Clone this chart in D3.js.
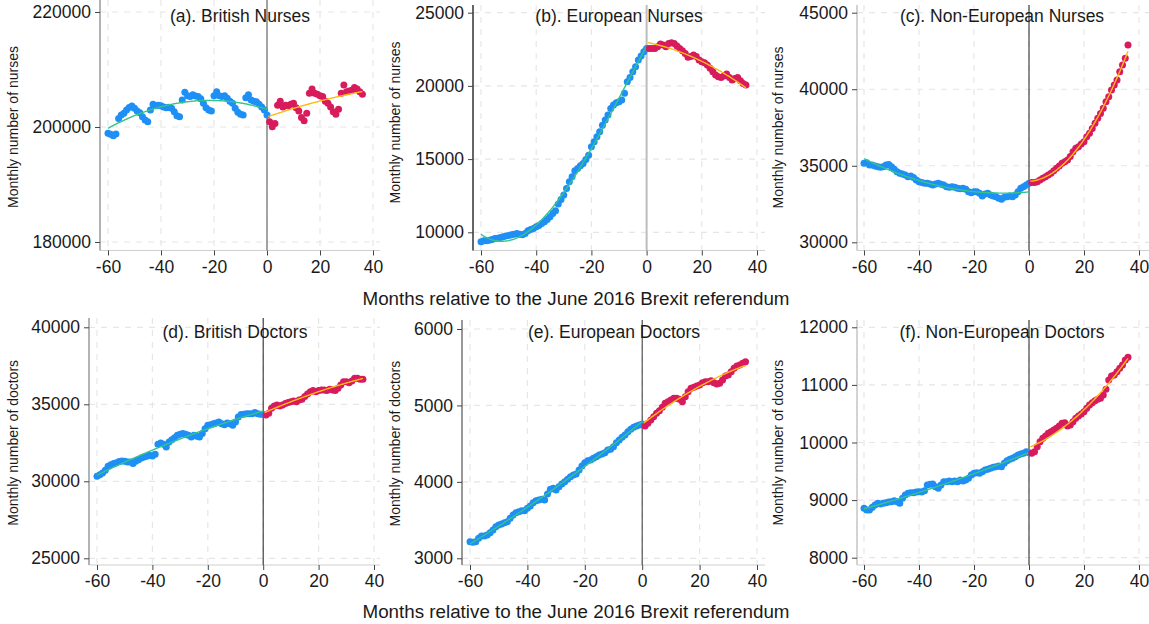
<!DOCTYPE html>
<html><head><meta charset="utf-8">
<script src="https://cdn.jsdelivr.net/npm/d3@7"></script>
<style>
body{margin:0;background:#fff}
svg{display:block;font-family:"Liberation Sans",Arial,sans-serif}
</style>
</head><body>
<svg id="chart" width="1149" height="624"></svg>
<script>
// ---------------- DATA ----------------
const preMonths = [-60,-59,-58,-57,-56,-55,-54,-53,-52,-51,-50,-49,-48,-47,-46,-45,-44,-43,-42,-41,
  -40,-39,-38,-37,-36,-35,-34,-33,-32,-31,-30,-29,-28,-27,-26,-25,-24,-23,-22,-21,
  -20,-19,-18,-17,-16,-15,-14,-13,-12,-11,-10,-9,-8,-7,-6,-5,-4,-3,-2,-1,0];
const postMonths = [1,2,3,4,5,6,7,8,9,10,11,12,13,14,15,16,17,18,19,20,
  21,22,23,24,25,26,27,28,29,30,31,32,33,34,35,36];

const panelTitles = ["(a). British Nurses","(b). European Nurses","(c). Non-European Nurses",
  "(d). British Doctors","(e). European Doctors","(f). Non-European Doctors"];
const yAxisTitles = ["Monthly number of nurses","Monthly number of nurses","Monthly number of nurses",
  "Monthly number of doctors","Monthly number of doctors","Monthly number of doctors"];
const xAxisTitle = "Months relative to the June 2016 Brexit referendum";
const xTicks = [-60,-40,-20,0,20,40];
const yTicksA = [180000,200000,220000];
const yTicksB = [10000,15000,20000,25000];
const yTicksC = [30000,35000,40000,45000];
const yTicksD = [25000,30000,35000,40000];
const yTicksE = [3000,4000,5000,6000];
const yTicksF = [8000,9000,10000,11000,12000];

const britishNursesPre = [198900,198750,198500,198800,201500,202100,202400,202950,203400,203650,
  203250,202800,202500,201800,201200,200900,202950,203950,203700,203800,
  203700,203500,203350,203450,203250,202650,201950,201800,204700,206050,
  205450,205300,205600,205400,205300,204900,204150,203350,202950,202800,
  205450,206150,205450,205300,205450,205000,204500,204150,203250,202550,
  202200,202100,205100,205600,204700,204500,204400,203950,203500,202950,202100];
const britishNursesPost = [200900,200050,200600,203800,204500,203500,203800,203700,203950,204150,
  203350,202800,201650,201100,202400,205850,206600,205850,205700,205450,
  205300,204500,204150,203500,202650,202200,203100,205850,207300,206150,
  206250,206400,206850,206600,206150,205700];

const euNursesPre = [9350,9420,9420,9460,9510,9580,9600,9650,9690,9740,
  9780,9830,9870,9920,9870,9830,9920,10100,10190,10260,
  10380,10470,10600,10720,10880,11060,11290,11470,11930,12240,
  12540,13000,13450,13790,14200,14360,14540,14700,14980,15270,
  15840,16180,16530,16870,17320,17670,18010,18460,18690,18850,
  18920,19030,19490,20280,20580,20970,21310,21770,22040,22330,22560];
const euNursesPost = [22560,22560,22560,22680,22860,22790,22680,22900,22950,22900,
  22720,22560,22400,22220,21950,22000,22110,22000,21770,21650,
  21580,21420,21200,20970,20740,20630,20580,20670,20810,20580,
  20400,20510,20580,20350,20170,20060];

const nonEuNursesPre = [35160,35200,35050,35050,34990,34940,34900,34940,35050,35090,
  34940,34770,34610,34510,34460,34400,34290,34330,34240,34070,
  33960,33900,33850,33850,33810,33740,33810,33850,33790,33740,
  33630,33590,33630,33590,33530,33500,33530,33460,33310,33240,
  33310,33310,33200,33020,33150,33200,33090,33020,32980,32870,
  32810,32940,32980,33020,32980,33090,33310,33530,33630,33740,33850];
const nonEuNursesPost = [33900,33900,33960,34070,34180,34290,34400,34510,34680,34830,
  34990,35160,35270,35380,35600,35920,36140,36250,36420,36570,
  36900,37120,37440,37770,38100,38420,38750,39190,39510,39950,
  40280,40600,41150,41580,42020,42890];

const britishDoctorsPre = [30320,30430,30540,30710,30970,31080,31150,31210,31280,31320,
  31300,31250,31250,31150,31300,31400,31510,31580,31620,31690,
  31640,31750,32400,32490,32400,32230,32550,32700,32830,32990,
  33050,33100,33050,32990,32880,32990,32920,32880,33100,33420,
  33640,33680,33740,33790,33850,33740,33680,33790,33740,33640,
  33850,34180,34330,34350,34390,34390,34390,34460,34390,34350,34330];
const britishDoctorsPost = [34310,34420,34740,34890,34960,34890,34960,35060,35110,35170,
  35220,35170,35280,35320,35500,35670,35820,35890,35820,35890,
  35930,35930,35890,35970,35930,35890,36040,36250,36470,36470,
  36400,36510,36690,36690,36620,36620];

const euDoctorsPre = [3218,3209,3218,3261,3292,3292,3305,3335,3370,3414,
  3436,3449,3466,3479,3523,3566,3597,3610,3623,3623,
  3654,3684,3728,3754,3763,3772,3763,3841,3902,3915,
  3893,3937,3972,4003,4033,4068,4090,4103,4155,4208,
  4251,4277,4286,4308,4330,4352,4365,4382,4417,4426,
  4461,4513,4548,4583,4613,4657,4687,4713,4731,4744,4757];
const euDoctorsPost = [4731,4766,4809,4853,4897,4932,4975,5027,5049,5071,
  5093,5093,5080,5049,5115,5180,5224,5237,5254,5267,
  5298,5311,5311,5324,5298,5280,5289,5333,5385,5398,
  5442,5485,5516,5529,5551,5573];

const nonEuDoctorsPre = [8857,8828,8828,8874,8915,8944,8932,8944,8955,8967,
  8972,8990,8972,8944,9030,9088,9117,9129,9129,9140,
  9146,9140,9164,9262,9274,9279,9233,9204,9262,9320,
  9320,9331,9320,9331,9320,9349,9331,9349,9378,9436,
  9465,9476,9465,9494,9522,9534,9551,9569,9580,9592,
  9580,9638,9685,9708,9725,9754,9783,9800,9812,9841,9823];
const nonEuDoctorsPost = [9812,9841,9928,10014,10072,10113,10159,10188,10217,10246,
  10287,10333,10344,10287,10304,10362,10420,10460,10495,10535,
  10593,10651,10692,10726,10750,10767,10825,10923,11085,11155,
  11172,11230,11288,11346,11433,11479];

const preSeries = [britishNursesPre,euNursesPre,nonEuNursesPre,britishDoctorsPre,euDoctorsPre,nonEuDoctorsPre];
const postSeries = [britishNursesPost,euNursesPost,nonEuNursesPost,britishDoctorsPost,euDoctorsPost,nonEuDoctorsPost];
const yTickSets = [yTicksA,yTicksB,yTicksC,yTicksD,yTicksE,yTicksF];
const preFitDegree = [2,3,2,2,2,2];
const postFitDegree = [2,2,2,2,2,2];

// ---------------- LAYOUT ----------------
const layout = [
  {ax:100, xr:[108,373], yr:[242,12],   top:0,   bot:250.5, right:380,  axisCol:"#9a9a9a", zeroCol:"#9a9a9a", zeroW:1.8, titleX:240,  titleY:16,  ytX:13},
  {ax:473, xr:[481,757], yr:[232.3,12.7], top:5, bot:250.5, right:765,  axisCol:"#333",    zeroCol:"#bdbdbd", zeroW:2,   titleX:619,  titleY:16,  ytX:395},
  {ax:857, xr:[864,1139],yr:[242.3,12.7], top:5, bot:250.5, right:1149, axisCol:"#c4c4c4", zeroCol:"#333",    zeroW:1.1, titleX:1002, titleY:16,  ytX:778},
  {ax:89,  xr:[97,374],  yr:[558.3,327.3],top:318,bot:565, right:380,  axisCol:"#9a9a9a", zeroCol:"#333",    zeroW:1.1, titleX:235,  titleY:332, ytX:13},
  {ax:462, xr:[470,757], yr:[558.3,329],  top:320,bot:565, right:765,  axisCol:"#777",    zeroCol:"#444",    zeroW:1.1, titleX:614,  titleY:332, ytX:395},
  {ax:857, xr:[864,1139],yr:[557.7,327.3],top:320,bot:565, right:1149, axisCol:"#c4c4c4", zeroCol:"#333",    zeroW:1.1, titleX:1002, titleY:332, ytX:778}
];
const BLUE = "#1e8ff5", RED = "#d81b5c", GREEN = "#33c48a", YELLOW = "#fdbb14";

// least squares polynomial fit
function polyfit(xs, ys, deg) {
  const n = deg + 1, A = [], b = [];
  for (let i = 0; i < n; i++) { A.push(new Array(n).fill(0)); b.push(0); }
  xs.forEach((x0, k) => {
    const x = x0 / 30;
    for (let i = 0; i < n; i++) {
      b[i] += ys[k] * Math.pow(x, i);
      for (let j = 0; j < n; j++) A[i][j] += Math.pow(x, i + j);
    }
  });
  for (let c = 0; c < n; c++) {
    let p = c;
    for (let r = c + 1; r < n; r++) if (Math.abs(A[r][c]) > Math.abs(A[p][c])) p = r;
    [A[c], A[p]] = [A[p], A[c]]; [b[c], b[p]] = [b[p], b[c]];
    for (let r = 0; r < n; r++) {
      if (r === c) continue;
      const f = A[r][c] / A[c][c];
      for (let j = c; j < n; j++) A[r][j] -= f * A[c][j];
      b[r] -= f * b[c];
    }
  }
  const coef = b.map((v, i) => v / A[i][i]);
  return x0 => { const x = x0 / 30; return coef.reduce((s, c, i) => s + c * Math.pow(x, i), 0); };
}

const svg = d3.select("#chart");
svg.append("rect").attr("width",1149).attr("height",624).attr("fill","#fff");

layout.forEach((L, i) => {
  const g = svg.append("g");
  const yt = yTickSets[i];
  const x = d3.scaleLinear().domain([-60, 40]).range(L.xr);
  const y = d3.scaleLinear().domain([yt[0], yt[yt.length - 1]]).range(L.yr);

  // grid
  g.selectAll(".hg").data(yt).enter().append("line")
    .attr("x1", L.ax).attr("x2", L.right).attr("y1", d => y(d)).attr("y2", d => y(d))
    .attr("stroke", "#e6e6e6").attr("stroke-width", 1.2).attr("stroke-dasharray", "6,6");
  g.selectAll(".vg").data(xTicks).enter().append("line")
    .attr("x1", d => x(d)).attr("x2", d => x(d)).attr("y1", L.top).attr("y2", L.bot)
    .attr("stroke", "#e6e6e6").attr("stroke-width", 1.2).attr("stroke-dasharray", "6,6");

  // x axis
  const xa = g.append("g").attr("transform", `translate(0,${L.bot})`)
    .call(d3.axisBottom(x).tickValues(xTicks).tickSize(5).tickPadding(5).tickFormat(d3.format("d")));
  xa.select(".domain").attr("stroke", "#cfcfcf").attr("stroke-width", 1.2)
    .attr("d", `M${L.ax},0H${L.right}`);
  xa.selectAll(".tick line").attr("stroke", "#444");
  xa.selectAll(".tick text").attr("font-size", "17.5px").attr("fill", "#1a1a1a")
    .attr("font-family", "Liberation Sans, Arial, sans-serif").text(d => d < 0 ? "-" + Math.abs(d) : d);

  // y axis
  const ya = g.append("g").attr("transform", `translate(${L.ax},0)`)
    .call(d3.axisLeft(y).tickValues(yt).tickSize(5).tickPadding(4).tickFormat(d3.format("d")));
  ya.select(".domain").attr("stroke", L.axisCol).attr("stroke-width", 1.5)
    .attr("d", `M0,${L.top}V${L.bot}`);
  ya.selectAll(".tick line").attr("stroke", "#444");
  ya.selectAll(".tick text").attr("font-size", "17.5px").attr("fill", "#1a1a1a")
    .attr("font-family", "Liberation Sans, Arial, sans-serif");

  // zero line
  g.append("line").attr("x1", x(0)).attr("x2", x(0)).attr("y1", L.top).attr("y2", L.bot)
    .attr("stroke", L.zeroCol).attr("stroke-width", L.zeroW);

  // points & fits
  const pre = preMonths.map((m, k) => ({m, v: preSeries[i][k]}));
  const post = postMonths.map((m, k) => ({m, v: postSeries[i][k]}));
  const fPre = polyfit(preMonths, preSeries[i], preFitDegree[i]);
  const fPost = polyfit(postMonths, postSeries[i], postFitDegree[i]);
  const line = d3.line().x(d => x(d[0])).y(d => y(d[1])).curve(d3.curveMonotoneX);

  g.selectAll(".pb").data(pre).enter().append("circle")
    .attr("cx", d => x(d.m)).attr("cy", d => y(d.v)).attr("r", 3.5).attr("fill", BLUE);
  g.append("path").attr("d", line(d3.range(-60, 0.01, 0.5).map(m => [m, fPre(m)])))
    .attr("fill", "none").attr("stroke", GREEN).attr("stroke-width", 1.4);
  g.selectAll(".pr").data(post).enter().append("circle")
    .attr("cx", d => x(d.m)).attr("cy", d => y(d.v)).attr("r", 3.5).attr("fill", RED);
  g.append("path").attr("d", line(d3.range(0.5, 36.01, 0.5).map(m => [m, fPost(m)])))
    .attr("fill", "none").attr("stroke", YELLOW).attr("stroke-width", 1.4);

  // titles
  g.append("text").attr("x", L.titleX).attr("y", L.titleY).attr("text-anchor", "middle")
    .attr("dominant-baseline", "central").attr("font-size", "17.5px").attr("fill", "#1a1a1a")
    .text(panelTitles[i]);
  const cy = (L.yr[0] + L.yr[1]) / 2;
  g.append("text").attr("transform", `translate(${L.ytX},${cy}) rotate(-90)`)
    .attr("text-anchor", "middle").attr("dominant-baseline", "central")
    .attr("font-size", "14px").attr("fill", "#1a1a1a").text(yAxisTitles[i]);
});

[298, 611].forEach(yy => {
  svg.append("text").attr("x", 576).attr("y", yy).attr("text-anchor", "middle")
    .attr("dominant-baseline", "central").attr("font-size", "18.8px").attr("fill", "#1a1a1a")
    .text(xAxisTitle);
});
</script>
</body></html>
